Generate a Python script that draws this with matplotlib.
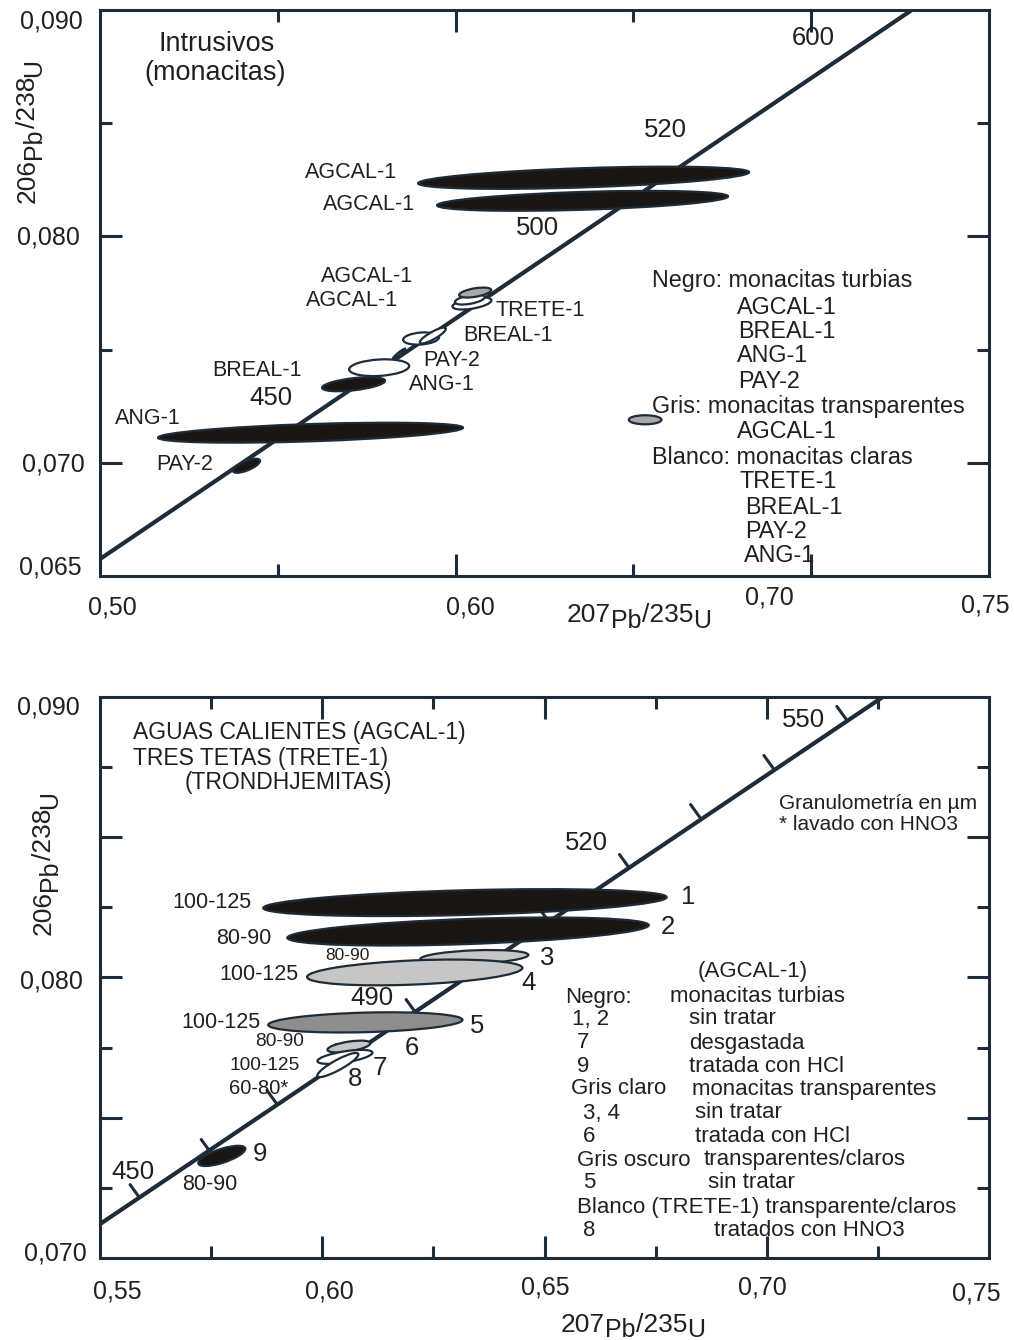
import numpy as np
import matplotlib
matplotlib.use('Agg')
import matplotlib.pyplot as plt
from matplotlib.patches import Circle
from matplotlib.transforms import Affine2D

plt.rcParams['font.family'] = ['Liberation Sans', 'DejaVu Sans']

NAVY = '#1e2b38'
INK = '#231f20'
W, H = 1014, 1340

# ---- top panel data (intrusivos, monacitas) ----
top_conc_x = [0.500, 0.7283]
top_conc_y = [0.06575, 0.0900]

# ellipse centre, half extents (x, y), correlation, fill
top_cx = [0.6360, 0.6357, 0.5592, 0.5412, 0.5713, 0.5785, 0.5841, 0.5903, 0.5936, 0.6046, 0.6040, 0.6055, 0.6533]
top_cy = [0.08259, 0.08157, 0.07133, 0.06987, 0.07347, 0.07420, 0.07482, 0.07549, 0.07562, 0.07704, 0.07721, 0.07752, 0.07190]
top_sx = [0.04654, 0.04092, 0.04289, 0.0038, 0.00886, 0.00844, 0.0017, 0.00506, 0.00366, 0.00548, 0.0042, 0.0045, 0.0046]
top_sy = [0.00049, 0.00044, 0.00044, 0.00031, 0.00031, 0.00037, 0.00022, 0.00027, 0.00035, 0.00027, 0.00022, 0.00022, 0.00020]
top_rho = [0.5, 0.45, 0.5, 0.7, 0.5, 0.2, 0.95, 0.2, 0.85, 0.5, 0.5, 0.5, 0.0]
top_fill = ['#1a1614', '#1a1614', '#1a1614', '#1a1614', '#1a1614', 'white', '#a8a8a8',
            'white', 'white', 'white', 'white', '#a8a8a8', '#a8a8a8']

# ---- bottom panel data (AGCAL-1 / TRETE-1) ----
bot_conc_x = [0.550, 0.7261]
bot_conc_y = [0.07121, 0.0900]
age_ticks_x = [0.5588, 0.5748, 0.5896, 0.6052, 0.6209, 0.6365, 0.6507, 0.6689, 0.6849, 0.7014, 0.7178]
age_ticks_y = [0.07217, 0.07378, 0.07553, 0.07717, 0.07877, 0.08041, 0.08205, 0.08394, 0.08572, 0.08747, 0.08922]

bot_cx = [0.6321, 0.6328, 0.6342, 0.6208, 0.6097, 0.6060, 0.6051, 0.6035, 0.5774]
bot_cy = [0.08267, 0.08164, 0.08073, 0.08018, 0.07840, 0.07754, 0.07717, 0.07688, 0.07364]
bot_sx = [0.04538, 0.04065, 0.01216, 0.02421, 0.02185, 0.00484, 0.00619, 0.00462, 0.00529]
bot_sy = [0.00048, 0.00050, 0.00025, 0.00046, 0.00036, 0.00021, 0.00025, 0.00043, 0.00036]
bot_rho = [0.4, 0.45, 0.3, 0.35, 0.25, 0.55, 0.6, 0.88, 0.7]
bot_fill = ['#1a1614', '#1a1614', '#c6c6c6', '#c6c6c6', '#8e8e8e', '#c6c6c6', 'white', 'white', '#1a1614']
bot_num = ['1', '2', '3', '4', '5', '6', '7', '8', '9']


def ellipse(ax, cx, cy, sx, sy, rho, fc, z=3):
    m = Affine2D.from_values(sx, sy * rho, 0, sy * np.sqrt(1 - rho ** 2), cx, cy)
    c = Circle((0, 0), 1, transform=m + ax.transData, facecolor=fc,
               edgecolor=NAVY, lw=1.6, zorder=z)
    ax.add_patch(c)


def t(x, y, s, size, ha='center', va='center', **kw):
    return fig.text(x / W, 1 - y / H, s, fontsize=size, ha=ha, va=va, color=INK, **kw)


def ratio_label(xc, yb, iso1, iso2, rot=0, drop=6):
    # e.g. 207Pb/235U with the element symbols set lower, as in the original
    parts = [(iso1, 19, 0), ('Pb', 18, drop), ('/' + iso2, 19, 0), ('U', 18, drop)]
    r = fig.canvas.get_renderer()
    objs = [fig.text(0, 0, s, fontsize=sz, rotation=rot, rotation_mode='anchor',
                     ha='left', va='baseline', color=INK) for s, sz, d in parts]
    sizes = []
    for o in objs:
        bb = o.get_window_extent(r)
        sizes.append(bb.width if rot == 0 else bb.height)
    pos = xc - sum(sizes) / 2 if rot == 0 else xc + sum(sizes) / 2
    for o, L, (s, sz, d) in zip(objs, sizes, parts):
        if rot == 0:
            o.set_position((pos / W, 1 - (yb + d) / H))
            pos += L
        else:
            o.set_position(((yb + d) / W, 1 - pos / H))
            pos -= L


def style(ax):
    for sp in ax.spines.values():
        sp.set_linewidth(2.2)
        sp.set_color(NAVY)
    ax.tick_params(which='both', direction='in', top=True, right=True,
                   labelbottom=False, labelleft=False, color=NAVY, width=2.2)
    ax.tick_params(which='major', length=16)
    ax.tick_params(which='minor', length=8.5)


fig = plt.figure(figsize=(W / 100, H / 100), dpi=100)

# ================= top panel =================
ax1 = fig.add_axes([100 / W, 1 - 576 / H, 889 / W, 566 / H])
ax1.set_xlim(0.50, 0.75)
ax1.set_ylim(0.065, 0.090)
ax1.set_xticks([0.60, 0.70])
ax1.set_xticks([0.55, 0.65], minor=True)
ax1.set_yticks([0.070, 0.080])
ax1.set_yticks([0.075, 0.085], minor=True)
style(ax1)
ax1.plot(top_conc_x, top_conc_y, color=NAVY, lw=3, zorder=2, solid_capstyle='butt')
for i in range(len(top_cx)):
    ellipse(ax1, top_cx[i], top_cy[i], top_sx[i], top_sy[i], top_rho[i], top_fill[i])

# tick labels
for s, x, y in [('0,090', 83, 22), ('0,080', 80, 237), ('0,070', 85, 465), ('0,065', 82, 568)]:
    t(x, y, s, 18, ha='right')
for s, x, y in [('0,50', 112, 607), ('0,60', 470, 607), ('0,70', 769, 597), ('0,75', 985, 605)]:
    t(x, y, s, 18)
ratio_label(639, 622, '207', '235')
ratio_label(131, 35, '206', '238', rot=90)

t(217, 44, 'Intrusivos', 19.5)
t(215, 73, '(monacitas)', 19.5)
for s, x, y in [('AGCAL-1', 351, 173), ('AGCAL-1', 369, 205), ('AGCAL-1', 367, 276),
                ('AGCAL-1', 352, 300), ('TRETE-1', 540, 310), ('BREAL-1', 508, 336),
                ('PAY-2', 452, 360), ('ANG-1', 442, 384), ('BREAL-1', 257, 370),
                ('ANG-1', 148, 419), ('PAY-2', 185, 465)]:
    t(x, y, s, 15.5)
for s, x, y in [('600', 813, 38), ('520', 665, 130), ('500', 537, 228), ('450', 271, 398)]:
    t(x, y, s, 18.5)

for s, x, y in [('Negro: monacitas turbias', 652, 281), ('AGCAL-1', 737, 307),
                ('BREAL-1', 738, 332), ('ANG-1', 737, 356), ('PAY-2', 738, 381),
                ('Gris: monacitas transparentes', 652, 407), ('AGCAL-1', 737, 432),
                ('Blanco: monacitas claras', 652, 457), ('TRETE-1', 740, 482),
                ('BREAL-1', 745, 507), ('PAY-2', 745, 531), ('ANG-1', 744, 556)]:
    t(x, y, s, 16.8, ha='left')

# ================= bottom panel =================
ax2 = fig.add_axes([100 / W, 1 - 1258 / H, 889 / W, 561 / H])
ax2.set_xlim(0.55, 0.75)
ax2.set_ylim(0.070, 0.090)
ax2.set_xticks([0.60, 0.65, 0.70])
ax2.set_xticks([0.575, 0.625, 0.675, 0.725], minor=True)
ax2.set_yticks([0.075, 0.080, 0.085])
ax2.set_yticks([0.0725, 0.0775, 0.0825, 0.0875], minor=True)
style(ax2)
ax2.plot(bot_conc_x, bot_conc_y, color=NAVY, lw=3, zorder=2, solid_capstyle='butt')
for x, y in zip(age_ticks_x, age_ticks_y):
    ax2.annotate('', xy=(x, y), xytext=(-6.5, 9), textcoords='offset points',
                 arrowprops=dict(arrowstyle='-', color=NAVY, lw=2.2, shrinkA=0, shrinkB=0),
                 zorder=2)
for i in range(len(bot_cx)):
    ellipse(ax2, bot_cx[i], bot_cy[i], bot_sx[i], bot_sy[i], bot_rho[i], bot_fill[i])

for s, x, y in [('0,090', 80, 707), ('0,080', 83, 982), ('0,070', 87, 1253)]:
    t(x, y, s, 18, ha='right')
for s, x, y in [('0,55', 117, 1292), ('0,60', 329, 1292), ('0,65', 545, 1287),
                ('0,70', 762, 1287), ('0,75', 976, 1293)]:
    t(x, y, s, 18)
ratio_label(633, 1332, '207', '235', drop=5)
ratio_label(863, 51, '206', '238', rot=90)

t(133, 733, 'AGUAS CALIENTES (AGCAL-1)', 16.5, ha='left')
t(133, 758, 'TRES TETAS (TRETE-1)', 16.5, ha='left')
t(185, 782, '(TRONDHJEMITAS)', 16.5, ha='left')
t(779, 803, 'Granulometría en µm', 15, ha='left')
t(779, 824, '* lavado con HNO3', 15, ha='left')

for s, x, y in [('450', 133, 1172), ('490', 372, 998), ('520', 586, 843), ('550', 803, 720)]:
    t(x, y, s, 18.5)
for s, x, y, sz in [('100-125', 212, 903, 15.5), ('80-90', 244, 938, 15.5),
                    ('100-125', 259, 974, 15.5), ('100-125', 221, 1023, 15.5),
                    ('80-90', 280, 1042, 13.8), ('100-125', 265, 1065, 13.8),
                    ('60-80*', 259, 1088, 14.5), ('80-90', 210, 1185, 15.5),
                    ('80-90', 347, 955, 12.5)]:
    t(x, y, s, sz)
for n, x, y in zip(bot_num, [688, 668, 547, 529, 477, 412, 380, 355, 260],
                   [897, 927, 958, 983, 1026, 1048, 1068, 1079, 1154]):
    t(x, y, n, 18.5)

t(753, 972, '(AGCAL-1)', 16)
for s, x, y in [('Negro:', 565, 997), ('monacitas turbias', 670, 997),
                ('1, 2', 572, 1019), ('sin tratar', 689, 1019),
                ('7', 577, 1043), ('desgastada', 689, 1043),
                ('9', 577, 1066), ('tratada con HCl', 689, 1066),
                ('Gris claro', 571, 1089), ('monacitas transparentes', 692, 1089),
                ('3, 4', 583, 1113), ('sin tratar', 695, 1113),
                ('6', 583, 1137), ('tratada con HCl', 695, 1137),
                ('Gris oscuro', 577, 1160), ('transparentes/claros', 704, 1160),
                ('5', 583, 1183), ('sin tratar', 708, 1183),
                ('Blanco (TRETE-1) transparente/claros', 577, 1207),
                ('8', 583, 1230), ('tratados con HNO3', 714, 1230)]:
    t(x, y, s, 16, ha='left')

fig.savefig('out.png', dpi=100)
